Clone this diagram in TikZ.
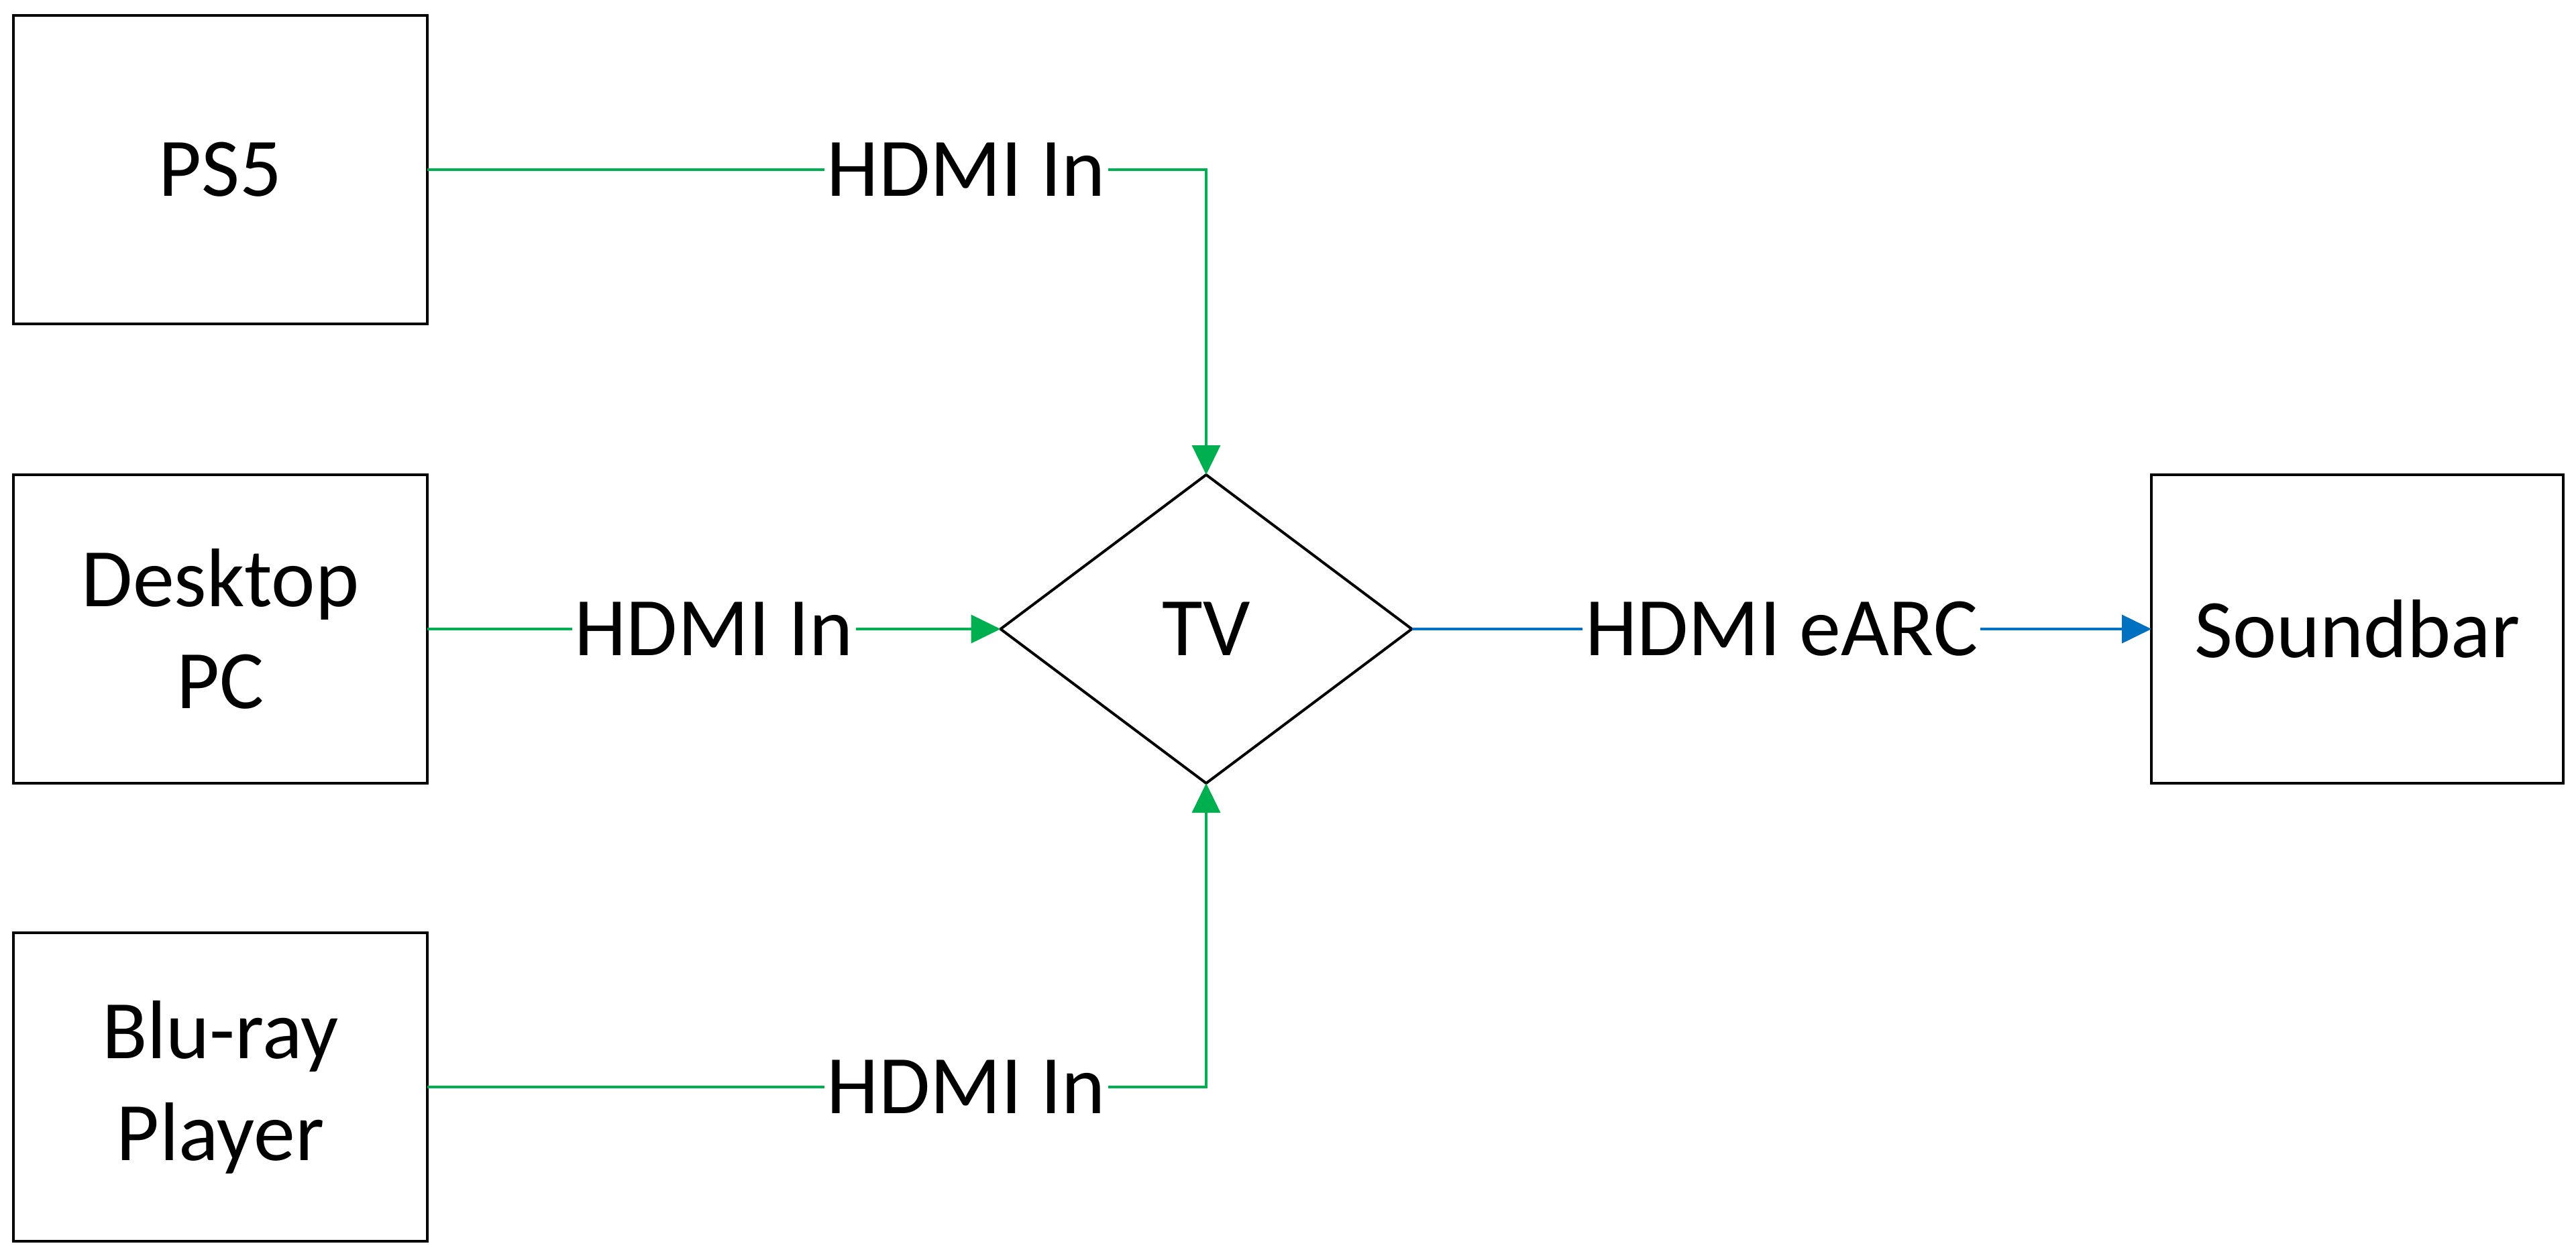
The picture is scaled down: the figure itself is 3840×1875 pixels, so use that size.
\documentclass[tikz,border=0pt]{standalone}
\usepackage{fontspec}
\setmainfont{Carlito}
\usetikzlibrary{arrows.meta,shapes.geometric}
\definecolor{hgreen}{HTML}{00B050}
\definecolor{hblue}{HTML}{0070C0}
\begin{document}
\begin{tikzpicture}[x=0.25pt,y=-0.25pt,
  txt/.style={font=\fontsize{31}{38}\selectfont},
  dev/.style={txt,draw=black,line width=1pt,minimum width=154.25pt,minimum height=115pt,inner sep=0pt,outer sep=0pt,align=center},
  tvshape/.style={txt,diamond,draw=black,line width=1pt,minimum width=153.25pt,minimum height=115pt,inner sep=0pt,outer sep=0pt},
  gconn/.style={draw=hgreen,line width=1pt,-{Triangle[length=11pt,width=10.5pt]}},
  bconn/.style={draw=hblue,line width=1pt,-{Triangle[length=11pt,width=10.5pt]}},
  lab/.style={txt,fill=white,inner sep=1pt}]
\useasboundingbox (0,0) rectangle (3840,1875);
\node[dev] (ps5) at (328.5,253) {PS5};
\node[dev] (pc) at (328.5,938) {Desktop\\PC};
\node[dev] (blu) at (328.5,1621) {Blu-ray\\Player};
\node[dev,minimum width=153.5pt] (sb) at (3514,938) {Soundbar};
\node[tvshape] (tv) at (1798,938) {TV};
\draw[gconn] (ps5.east) -| node[lab,pos=0.346]{HDMI In} (tv.north);
\draw[gconn] (pc.east) -- node[lab]{HDMI In} (tv.west);
\draw[gconn] (blu.east) -| node[lab,pos=0.346]{HDMI In} (tv.south);
\draw[bconn] (tv.east) -- node[lab]{HDMI eARC} (sb.west);
\end{tikzpicture}
\end{document}
